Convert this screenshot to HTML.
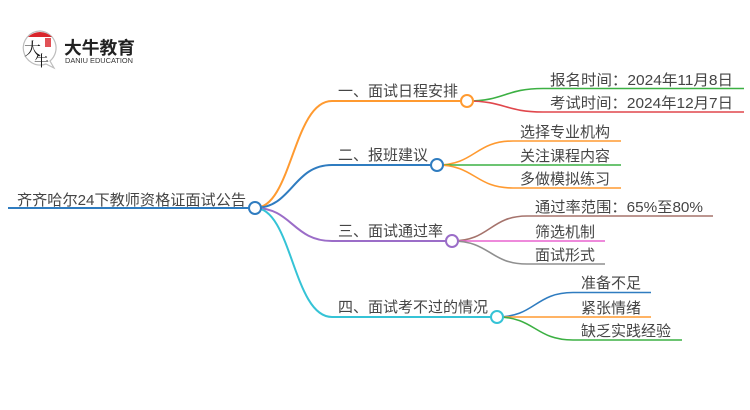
<!DOCTYPE html>
<html>
<head>
<meta charset="utf-8">
<style>
html,body{margin:0;padding:0;background:#fff;}
body{width:750px;height:410px;overflow:hidden;}
svg{display:block;}
text{font-family:"Liberation Sans","Noto Sans CJK SC",sans-serif;fill:#454545;}
</style>
</head>
<body>
<svg width="750" height="410" viewBox="0 0 750 410" xmlns="http://www.w3.org/2000/svg">
  <!-- Logo -->
  <g>
    <path d="M40 31 A17 17 0 1 0 46 64 L54 68 L50 61 A17 17 0 0 0 40 31 Z" fill="#fff" stroke="#bdbdbd" stroke-width="1.2"/>
    <path d="M28 37 A17 17 0 0 1 52 37 Z" fill="#d9262c"/>
    <rect x="45" y="38" width="6" height="9" fill="#d9262c" opacity="0.8"/>
    <text x="24" y="55" font-size="17" style="font-family:'Noto Serif CJK SC',serif;fill:#1a1a1a;">大</text>
    <text x="34" y="66" font-size="15" style="font-family:'Noto Serif CJK SC',serif;fill:#1a1a1a;">牛</text>
    <text x="64" y="54" font-size="17.5" font-weight="bold" textLength="71" lengthAdjust="spacingAndGlyphs" style="fill:#222;">大牛教育</text>
    <text x="65" y="63" font-size="7.5" textLength="68" lengthAdjust="spacingAndGlyphs" style="fill:#333;">DANIU EDUCATION</text>
  </g>

  <!-- Root line -->
  <line x1="8" y1="208" x2="255" y2="208" stroke="#2f7cc0" stroke-width="2"/>

  <!-- Main branches -->
  <path d="M255 208 C292 208 293 101 332 101 L467 101" fill="none" stroke="#ff9a30" stroke-width="2"/>
  <path d="M255 208 C292 208 293 165 332 165 L437 165" fill="none" stroke="#2f7cc0" stroke-width="2"/>
  <path d="M255 208 C292 208 293 241 332 241 L452 241" fill="none" stroke="#9b6dc8" stroke-width="2"/>
  <path d="M255 208 C292 208 293 317 332 317 L497 317" fill="none" stroke="#35c3d6" stroke-width="2"/>

  <!-- Leaves branch 1 -->
  <path d="M467 101 C505 101 505 88.5 543 88.5 L744 88.5" fill="none" stroke="#3cb043" stroke-width="1.6"/>
  <path d="M467 101 C505 101 505 112 543 112 L744 112" fill="none" stroke="#e0474c" stroke-width="1.6"/>
  <!-- Leaves branch 2 -->
  <path d="M437 165 C475 165 475 141 513 141 L621 141" fill="none" stroke="#ff9a30" stroke-width="1.6"/>
  <path d="M437 165 L621 165" fill="none" stroke="#3cb043" stroke-width="1.6"/>
  <path d="M437 165 C475 165 475 188 513 188 L621 188" fill="none" stroke="#ff9a30" stroke-width="1.6"/>
  <!-- Leaves branch 3 -->
  <path d="M452 241 C490 241 490 216 527 216 L713 216" fill="none" stroke="#a5736c" stroke-width="1.6"/>
  <path d="M452 241 L605 241" fill="none" stroke="#e864cf" stroke-width="1.6"/>
  <path d="M452 241 C490 241 490 264 527 264 L605 264" fill="none" stroke="#8f8f8f" stroke-width="1.6"/>
  <!-- Leaves branch 4 -->
  <path d="M497 317 C535 317 535 292.5 573 292.5 L651 292.5" fill="none" stroke="#2f7cc0" stroke-width="1.6"/>
  <path d="M497 317 L651 317" fill="none" stroke="#ff9a30" stroke-width="1.6"/>
  <path d="M497 317 C535 317 535 340 573 340 L682 340" fill="none" stroke="#3cb043" stroke-width="1.6"/>

  <!-- Circles -->
  <circle cx="255" cy="208" r="6" fill="#fff" stroke="#2f7cc0" stroke-width="2"/>
  <circle cx="467" cy="101" r="6" fill="#fff" stroke="#ff9a30" stroke-width="2"/>
  <circle cx="437" cy="165" r="6" fill="#fff" stroke="#2f7cc0" stroke-width="2"/>
  <circle cx="452" cy="241" r="6" fill="#fff" stroke="#9b6dc8" stroke-width="2"/>
  <circle cx="497" cy="317" r="6" fill="#fff" stroke="#35c3d6" stroke-width="2"/>

  <!-- Texts -->
  <g font-size="15">
    <text x="17" y="205" textLength="229" lengthAdjust="spacingAndGlyphs">齐齐哈尔24下教师资格证面试公告</text>

    <text x="338" y="96" textLength="120" lengthAdjust="spacingAndGlyphs">一、面试日程安排</text>
    <text x="338" y="160" textLength="90" lengthAdjust="spacingAndGlyphs">二、报班建议</text>
    <text x="338" y="236" textLength="105" lengthAdjust="spacingAndGlyphs">三、面试通过率</text>
    <text x="338" y="312" textLength="150" lengthAdjust="spacingAndGlyphs">四、面试考不过的情况</text>

    <text x="550" y="85" textLength="183" lengthAdjust="spacingAndGlyphs">报名时间：2024年11月8日</text>
    <text x="550" y="108" textLength="183" lengthAdjust="spacingAndGlyphs">考试时间：2024年12月7日</text>

    <text x="520" y="137" textLength="90" lengthAdjust="spacingAndGlyphs">选择专业机构</text>
    <text x="520" y="161" textLength="90" lengthAdjust="spacingAndGlyphs">关注课程内容</text>
    <text x="520" y="184" textLength="90" lengthAdjust="spacingAndGlyphs">多做模拟练习</text>

    <text x="535" y="212" textLength="168" lengthAdjust="spacingAndGlyphs">通过率范围：65%至80%</text>
    <text x="535" y="237" textLength="60" lengthAdjust="spacingAndGlyphs">筛选机制</text>
    <text x="535" y="260" textLength="60" lengthAdjust="spacingAndGlyphs">面试形式</text>

    <text x="581" y="288" textLength="60" lengthAdjust="spacingAndGlyphs">准备不足</text>
    <text x="581" y="313" textLength="60" lengthAdjust="spacingAndGlyphs">紧张情绪</text>
    <text x="581" y="336" textLength="90" lengthAdjust="spacingAndGlyphs">缺乏实践经验</text>
  </g>
</svg>
</body>
</html>
